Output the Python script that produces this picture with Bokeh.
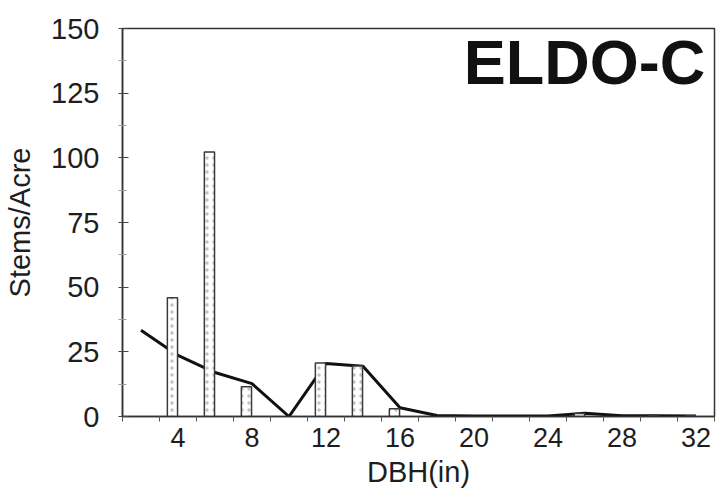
from bokeh.plotting import figure
from bokeh.models import ColumnDataSource, Range1d, FixedTicker, Label
from bokeh.transform import dodge
from bokeh.embed import file_html
from bokeh.resources import INLINE

# Diameter classes (inches) and stand data
dbh_class = [2, 4, 6, 8, 10, 12, 14, 16, 18, 20, 22, 24, 26, 28, 30, 32]
observed = [0, 45.9, 102.3, 11.5, 0, 20.7, 19.5, 3.0, 0, 0, 0, 0, 1.2, 0, 0.5, 0.3]
fitted = [33.3, 23.6, 17.0, 12.7, 0, 20.5, 19.4, 3.4, 0.4, 0.2, 0.2, 0.2, 1.3, 0.3, 0.3, 0.2]

x_tick_values = [4, 8, 12, 16, 20, 24, 28, 32]
x_minor_values = [1, 3, 5, 7, 9, 11, 13, 15, 17, 19, 21, 23, 25, 27, 29, 31, 33]
y_tick_values = [0, 25, 50, 75, 100, 125, 150]
y_minor_values = [12.5, 37.5, 62.5, 87.5, 112.5, 137.5]

FONT = "Liberation Sans"
INK = "#1e1e1e"

bars = ColumnDataSource(data=dict(
    x=[d for d, v in zip(dbh_class, observed) if v > 0],
    top=[v for v in observed if v > 0],
))
curve = ColumnDataSource(data=dict(x=dbh_class, y=fitted))

p = figure(width=722, height=490, output_backend="svg", toolbar_location=None,
           x_range=Range1d(1, 33), y_range=Range1d(0, 150))
p.min_border_left = 122
p.min_border_right = 8
p.min_border_top = 28
p.min_border_bottom = 70
p.background_fill_color = "white"
p.border_fill_color = "white"
p.outline_line_color = "#333333"
p.outline_line_width = 1.5
p.xgrid.visible = False
p.ygrid.visible = False

# fitted distribution line, drawn beneath the bars
p.line("x", "y", source=curve, line_color="#111111", line_width=3)

# observed stems per acre
p.vbar(x=dodge("x", -0.3, range=p.x_range), top="top", width=0.55, source=bars,
       fill_color="white", line_color="#3a3a3a", line_width=1.5,
       hatch_pattern="dot", hatch_color="#9a9a9a", hatch_scale=7,
       hatch_weight=1, hatch_alpha=0.6)

# x axis
xa = p.xaxis[0]
xa.ticker = FixedTicker(ticks=x_tick_values, minor_ticks=x_minor_values)
xa.axis_label = "DBH(in)"
xa.axis_line_color = "#333333"
xa.axis_line_width = 1.5
xa.major_tick_line_alpha = 0
xa.major_tick_out = 4
xa.major_tick_in = 0
xa.minor_tick_line_color = "#555555"
xa.minor_tick_out = 5
xa.minor_tick_in = 0
xa.major_label_standoff = 6
xa.major_label_text_font = FONT
xa.major_label_text_font_size = "27px"
xa.major_label_text_color = INK
xa.axis_label_text_font = FONT
xa.axis_label_text_font_size = "29px"
xa.axis_label_text_font_style = "normal"
xa.axis_label_text_color = INK
xa.axis_label_standoff = 6

# y axis
ya = p.yaxis[0]
ya.ticker = FixedTicker(ticks=y_tick_values, minor_ticks=y_minor_values)
ya.axis_label = "Stems/Acre"
ya.axis_line_color = "#333333"
ya.axis_line_width = 1.5
ya.major_tick_line_color = "#444444"
ya.major_tick_out = 4
ya.major_tick_in = 6
ya.minor_tick_line_color = "#999999"
ya.minor_tick_out = 4
ya.minor_tick_in = 4
ya.major_label_standoff = 19
ya.major_label_text_font = FONT
ya.major_label_text_font_size = "29px"
ya.major_label_text_color = INK
ya.axis_label_text_font = FONT
ya.axis_label_text_font_size = "29px"
ya.axis_label_text_font_style = "normal"
ya.axis_label_text_color = INK
ya.axis_label_standoff = 12

# stand identifier
p.add_layout(Label(x=32.5, y=137, text="ELDO-C", text_align="right",
                   text_baseline="alphabetic", text_font=FONT,
                   text_font_size="63px", text_font_style="bold",
                   text_color="#111111"))

open("out.html", "w").write(file_html(p, INLINE))
